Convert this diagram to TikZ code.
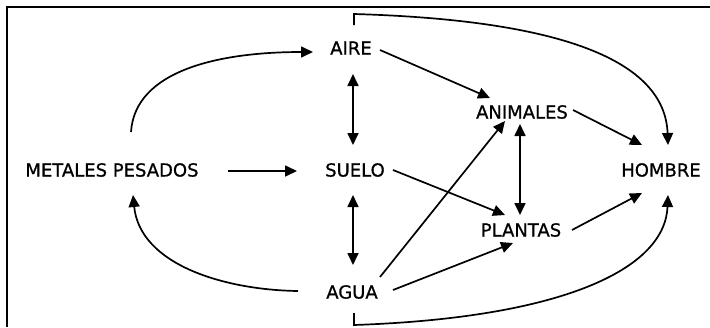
\documentclass[tikz,border=0pt]{standalone}
\usepackage{fontspec}
\setmainfont{DejaVu Sans}[FakeBold=0.8]
\usetikzlibrary{arrows.meta,calc}
\begin{document}
\begin{tikzpicture}[x=1pt,y=-1pt,
  lbl/.style={inner sep=0pt,font=\fontsize{18}{21}\selectfont},
  con/.style={line width=1.7pt,-{Triangle[length=12pt,width=11pt]}},
  dcon/.style={line width=1.7pt,{Triangle[length=12pt,width=11pt]}-{Triangle[length=12pt,width=11pt]}},
  frame/.style={line width=1.8pt}]
\useasboundingbox (0,0) rectangle (710,327);
\coordinate (tl) at (7,7);
\coordinate (tr) at (710,7);
\coordinate (bl) at (7,327);
\draw[frame] (tr) -- (tl) -- (bl);

\node[lbl] (metales) at (112,170) {METALES PESADOS};
\node[lbl] (suelo) at (355,170) {SUELO};
\node[lbl] (aire) at (351,48) {AIRE};
\node[lbl] (agua) at (352,292) {AGUA};
\node[lbl] (animales) at (522,112) {ANIMALES};
\node[lbl] (plantas) at (521,230) {PLANTAS};
\node[lbl] (hombre) at (661,170) {HOMBRE};

% metales -> suelo
\draw[con] ($(metales)+(116,1)$) -- ($(suelo)+(-58,1)$);
% metales -> aire
\draw[con] ($(metales)+(19,-38)$) .. controls ($(metales)+(23,-100)$) and ($(aire)+(-131,4)$) .. ($(aire)+(-38,4)$);
% agua -> metales
\draw[con] ($(agua)+(-54,-1)$) .. controls ($(agua)+(-127,-2)$) and ($(metales)+(28,95)$) .. ($(metales)+(21,25)$);
% aire <-> suelo
\draw[dcon] ($(aire)+(2,26)$) -- ($(suelo)+(-2,-25)$);
% suelo <-> agua
\draw[dcon] ($(suelo)+(-2,25)$) -- ($(agua)+(1,-27)$);
% aire -> animales
\draw[con] ($(aire)+(29,2)$) -- ($(animales)+(-32,-14)$);
% animales -> hombre
\draw[con] ($(animales)+(51,-2)$) -- ($(hombre)+(-19,-25)$);
% aire (top) -> hombre
\draw[con] ($(aire)+(3,-23)$) -- ($(aire)+(3,-34)$) .. controls ($(aire)+(209,-28)$) and ($(hombre)+(4,-110)$) .. ($(hombre)+(7,-25)$);
% agua -> animales
\draw[con] ($(agua)+(28,-15)$) -- ($(animales)+(-17,9)$);
% animales <-> plantas
\draw[dcon] ($(animales)+(-2,12)$) -- ($(plantas)+(-1,-15)$);
% suelo -> plantas
\draw[con] ($(suelo)+(38,0)$) -- ($(plantas)+(-16,-15)$);
% agua -> plantas
\draw[con] ($(agua)+(41,-2)$) -- ($(plantas)+(-8,13)$);
% plantas -> hombre
\draw[con] ($(plantas)+(51,0)$) -- ($(hombre)+(-19,23)$);
% agua (bottom) -> hombre
\draw[con] ($(agua)+(2,21)$) -- ($(agua)+(2,33)$) .. controls ($(agua)+(208,26)$) and ($(hombre)+(4,100)$) .. ($(hombre)+(7,25)$);
\end{tikzpicture}
\end{document}
